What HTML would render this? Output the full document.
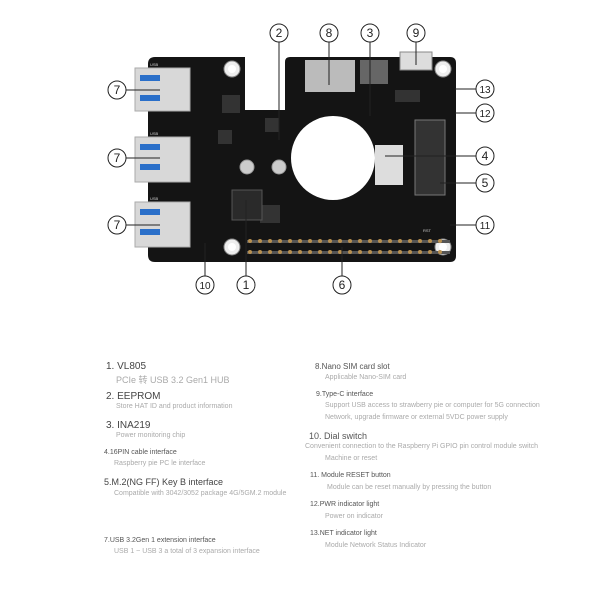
<!DOCTYPE html>
<html><head><meta charset="utf-8"><style>
body{margin:0;background:#fff;width:600px;height:600px;overflow:hidden;position:relative;font-family:"Liberation Sans","Noto Sans CJK SC",sans-serif}
.t{position:absolute;white-space:nowrap}
.h{color:#444;font-size:10px}
.m{color:#555;font-size:7px}
.s{color:#aaa;font-size:7px}
.p{color:#aaa;font-size:9px}
</style></head><body>
<svg width="600" height="300" style="position:absolute;left:0;top:0" font-family="Liberation Sans" font-size="12">
<path d="M155 57 H245 V110 H285 V62 Q285 57 290 57 H450 Q456 57 456 63 V256 Q456 262 450 262 H155 Q148 262 148 255 V64 Q148 57 155 57Z" fill="#141414"/>
<circle cx="333" cy="158" r="42" fill="#fff"/>
<g fill="#eee" stroke="#888"><circle cx="232" cy="69" r="8"/><circle cx="443" cy="69" r="8"/><circle cx="232" cy="247" r="8"/><circle cx="443" cy="247" r="8"/></g>
<g fill="#fff"><circle cx="232" cy="69" r="4"/><circle cx="443" cy="69" r="4"/><circle cx="232" cy="247" r="4"/><circle cx="443" cy="247" r="4"/></g>
<g fill="#ccc" stroke="#999"><circle cx="247" cy="167" r="7"/><circle cx="279" cy="167" r="7"/></g>
<g fill="#333"><rect x="222" y="95" width="18" height="18"/><rect x="218" y="130" width="14" height="14"/><rect x="265" y="118" width="14" height="14"/><rect x="395" y="90" width="25" height="12"/><rect x="260" y="205" width="20" height="18"/></g>
<g fill="#d8d8d8" stroke="#aaa"><rect x="135" y="68" width="55" height="43"/><rect x="135" y="137" width="55" height="45"/><rect x="135" y="202" width="55" height="45"/></g>
<g fill="#2a6fc9"><rect x="140" y="75" width="20" height="6"/><rect x="140" y="95" width="20" height="6"/><rect x="140" y="144" width="20" height="6"/><rect x="140" y="164" width="20" height="6"/><rect x="140" y="209" width="20" height="6"/><rect x="140" y="229" width="20" height="6"/></g>
<rect x="305" y="60" width="50" height="32" fill="#bbb"/><rect x="360" y="60" width="28" height="24" fill="#666"/>
<rect x="400" y="52" width="32" height="18" fill="#ddd" stroke="#888"/>
<rect x="415" y="120" width="30" height="75" fill="#333" stroke="#777"/>
<rect x="375" y="145" width="28" height="40" fill="#ddd"/>
<rect x="232" y="190" width="30" height="30" fill="#2a2a2a" stroke="#555"/>
<g id="pins" fill="#8a6a3a">
<rect x="247" y="240" width="203" height="3" fill="#555"/>
<rect x="247" y="251" width="203" height="3" fill="#555"/>
</g>
<g fill="#b89050">
<circle cx="250" cy="241" r="2"/><circle cx="260" cy="241" r="2"/><circle cx="270" cy="241" r="2"/><circle cx="280" cy="241" r="2"/><circle cx="290" cy="241" r="2"/><circle cx="300" cy="241" r="2"/><circle cx="310" cy="241" r="2"/><circle cx="320" cy="241" r="2"/><circle cx="330" cy="241" r="2"/><circle cx="340" cy="241" r="2"/><circle cx="350" cy="241" r="2"/><circle cx="360" cy="241" r="2"/><circle cx="370" cy="241" r="2"/><circle cx="380" cy="241" r="2"/><circle cx="390" cy="241" r="2"/><circle cx="400" cy="241" r="2"/><circle cx="410" cy="241" r="2"/><circle cx="420" cy="241" r="2"/><circle cx="430" cy="241" r="2"/><circle cx="440" cy="241" r="2"/>
<circle cx="250" cy="252" r="2"/><circle cx="260" cy="252" r="2"/><circle cx="270" cy="252" r="2"/><circle cx="280" cy="252" r="2"/><circle cx="290" cy="252" r="2"/><circle cx="300" cy="252" r="2"/><circle cx="310" cy="252" r="2"/><circle cx="320" cy="252" r="2"/><circle cx="330" cy="252" r="2"/><circle cx="340" cy="252" r="2"/><circle cx="350" cy="252" r="2"/><circle cx="360" cy="252" r="2"/><circle cx="370" cy="252" r="2"/><circle cx="380" cy="252" r="2"/><circle cx="390" cy="252" r="2"/><circle cx="400" cy="252" r="2"/><circle cx="410" cy="252" r="2"/><circle cx="420" cy="252" r="2"/><circle cx="430" cy="252" r="2"/><circle cx="440" cy="252" r="2"/>
</g>
<g fill="#ccc" font-size="4"><text x="150" y="66">USB</text><text x="150" y="135">USB</text><text x="150" y="200">USB</text><text x="423" y="232">RST</text></g>
<g stroke="#222" fill="none" stroke-width="1">
<path d="M126 90H160M126 158H160M126 225H160M279 42V140M329 42V85M370 42V116M416 42V65M476 89H455M476 113H455M476 156H385M476 183H440M476 225H450M205 276V243M246 276V200M342 276V247"/>
</g>
<g fill="#fff" stroke="#222"><circle cx="117" cy="90" r="9"/><circle cx="117" cy="158" r="9"/><circle cx="117" cy="225" r="9"/><circle cx="279" cy="33" r="9"/><circle cx="329" cy="33" r="9"/><circle cx="370" cy="33" r="9"/><circle cx="416" cy="33" r="9"/><circle cx="485" cy="89" r="9"/><circle cx="485" cy="113" r="9"/><circle cx="485" cy="156" r="9"/><circle cx="485" cy="183" r="9"/><circle cx="485" cy="225" r="9"/><circle cx="205" cy="285" r="9"/><circle cx="246" cy="285" r="9"/><circle cx="342" cy="285" r="9"/></g>
<g text-anchor="middle" fill="#222"><text x="117" y="94">7</text><text x="117" y="162">7</text><text x="117" y="229">7</text><text x="279" y="37">2</text><text x="329" y="37">8</text><text x="370" y="37">3</text><text x="416" y="37">9</text><text x="485" y="93" font-size="10">13</text><text x="485" y="117" font-size="10">12</text><text x="485" y="160">4</text><text x="485" y="187">5</text><text x="485" y="229" font-size="10">11</text><text x="205" y="289" font-size="10">10</text><text x="246" y="289">1</text><text x="342" y="289">6</text></g>
</svg>
<div class="t h" style="left:106px;top:361px">1. VL805</div>
<div class="t p" style="left:116px;top:373px">PCIe 转 USB 3.2 Gen1 HUB</div>
<div class="t h" style="left:106px;top:391px">2. EEPROM</div>
<div class="t s" style="left:116px;top:403px">Store HAT ID and product information</div>
<div class="t h" style="left:106px;top:420px">3. INA219</div>
<div class="t s" style="left:116px;top:432px">Power monitoring chip</div>
<div class="t m" style="left:104px;top:449px">4.16PIN cable interface</div>
<div class="t s" style="left:114px;top:460px">Raspberry pie PC le interface</div>
<div class="t h" style="left:104px;top:477px;font-size:9px">5.M.2(NG FF) Key B interface</div>
<div class="t s" style="left:114px;top:490px">Compatible with 3042/3052 package 4G/5GM.2 module</div>
<div class="t m" style="left:104px;top:537px">7.USB 3.2Gen 1 extension interface</div>
<div class="t s" style="left:114px;top:548px">USB 1 ~ USB 3 a total of 3 expansion interface</div>
<div class="t m" style="left:315px;top:362px;font-size:8px">8.Nano SIM card slot</div>
<div class="t s" style="left:325px;top:374px">Applicable Nano-SIM card</div>
<div class="t m" style="left:316px;top:391px">9.Type-C interface</div>
<div class="t s" style="left:325px;top:402px">Support USB access to strawberry pie or computer for 5G connection</div>
<div class="t s" style="left:325px;top:414px">Network, upgrade firmware or external 5VDC power supply</div>
<div class="t m" style="left:309px;top:431px;font-size:9px">10. Dial switch</div>
<div class="t s" style="left:305px;top:443px">Convenient connection to the Raspberry Pi GPIO pin control module switch</div>
<div class="t s" style="left:325px;top:455px">Machine or reset</div>
<div class="t m" style="left:310px;top:472px">11. Module RESET button</div>
<div class="t s" style="left:327px;top:484px">Module can be reset manually by pressing the button</div>
<div class="t m" style="left:310px;top:501px">12.PWR indicator light</div>
<div class="t s" style="left:325px;top:513px">Power on indicator</div>
<div class="t m" style="left:310px;top:530px">13.NET indicator light</div>
<div class="t s" style="left:325px;top:542px">Module Network Status Indicator</div>
</body></html>
